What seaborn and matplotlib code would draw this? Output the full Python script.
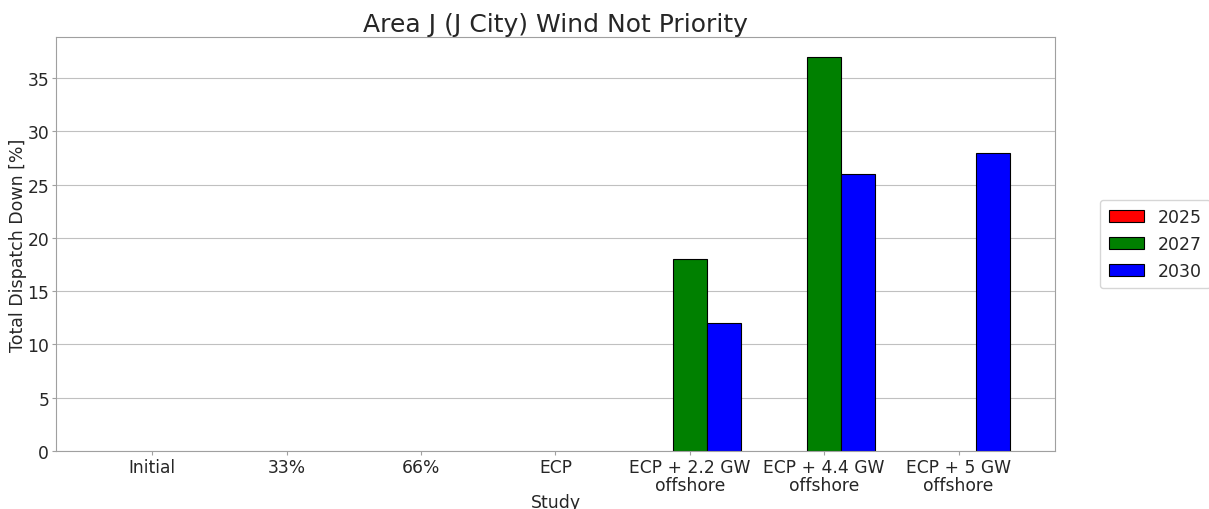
import matplotlib
matplotlib.use('Agg')

import numpy as np
import pandas as pd
import matplotlib.pyplot as plt
import seaborn as sns

studies = ['Initial', '33%', '66%', 'ECP', 'ECP + 2.2 GW\noffshore',
           'ECP + 4.4 GW\noffshore', 'ECP + 5 GW\noffshore']
years = ['2025', '2027', '2030']
dispatch_2025 = [np.nan, np.nan, np.nan, np.nan, np.nan, np.nan, np.nan]
dispatch_2027 = [np.nan, np.nan, np.nan, np.nan, 18, 37, np.nan]
dispatch_2030 = [np.nan, np.nan, np.nan, np.nan, 12, 26, 28]
colors = ['red', 'green', 'blue']

df = pd.DataFrame({
    'Study': studies * 3,
    'Year': [y for y in years for _ in studies],
    'Value': dispatch_2025 + dispatch_2027 + dispatch_2030,
})

sns.set_style('whitegrid', {'xtick.bottom': True, 'ytick.left': True,
                            'axes.edgecolor': '#a0a0a0',
                            'grid.color': '#c0c0c0'})

fig = plt.figure(figsize=(12.09, 5.1), dpi=100)
ax = fig.add_axes([0.0463, 0.1137, 0.8263, 0.8118])

sns.barplot(data=df, x='Study', y='Value', hue='Year', hue_order=years,
            palette=colors, edgecolor='black', linewidth=0.8,
            width=0.76, saturation=1, ax=ax)

ax.grid(axis='x', visible=False)
ax.set_ylim(0, 38.85)
ax.set_xlim(-0.718, 6.718)
ax.set_title('Area J (J City) Wind Not Priority', fontsize=18, pad=4)
ax.set_xlabel('Study', fontsize=12.5, labelpad=-1)
ax.set_ylabel('Total Dispatch Down [%]', fontsize=12.5, labelpad=0)
ax.tick_params(labelsize=12.3, colors='#a0a0a0', labelcolor='#262626',
               length=3, pad=2)
for lbl in ax.get_xticklabels():
    lbl.set_linespacing(1.0)

ax.legend(loc='center left', bbox_to_anchor=(1.045, 0.5), fontsize=12.5,
          frameon=True, handlelength=2.05, handletextpad=0.8,
          borderpad=0.5, borderaxespad=0)

fig.savefig('out.png', dpi=100)
